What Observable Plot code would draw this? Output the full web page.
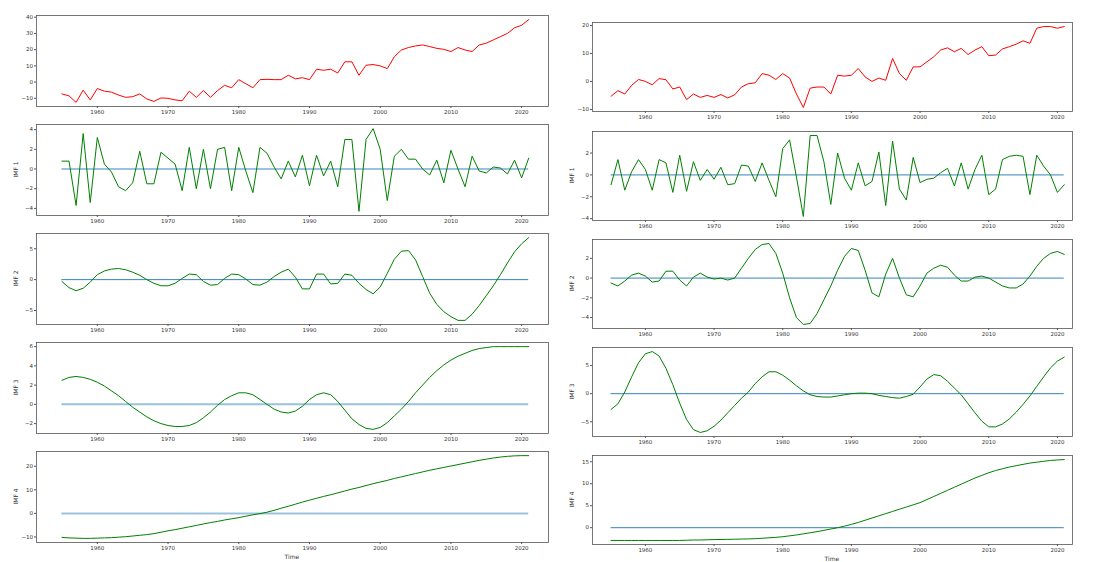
<!DOCTYPE html>
<html>
<head>
<meta charset="utf-8">
<script src="https://cdn.jsdelivr.net/npm/d3@7"></script>
<script src="https://cdn.jsdelivr.net/npm/@observablehq/plot@0.6"></script>
<style>
  html, body { margin: 0; padding: 0; background: #fff; }
  #root { position: relative; width: 1106px; height: 562px; overflow: hidden; font-family: "DejaVu Sans", sans-serif; }
  .panel { position: absolute; }
  .panel svg { max-width: none !important; }
  .ylab { position: absolute; font-size: 6px; color: #333; white-space: nowrap; transform-origin: center; }
  .xlab { position: absolute; font-size: 6px; color: #333; white-space: nowrap; }
</style>
</head>
<body>
<div id="root"></div>
<script>
// ---------- data ----------
const years = [1955,1956,1957,1958,1959,1960,1961,1962,1963,1964,1965,1966,1967,1968,1969,
  1970,1971,1972,1973,1974,1975,1976,1977,1978,1979,1980,1981,1982,1983,1984,1985,1986,1987,1988,1989,
  1990,1991,1992,1993,1994,1995,1996,1997,1998,1999,2000,2001,2002,2003,2004,2005,2006,2007,2008,2009,
  2010,2011,2012,2013,2014,2015,2016,2017,2018,2019,2020,2021];
const xTicks = [1960, 1970, 1980, 1990, 2000, 2010, 2020];

// left column
const leftSignal = [-7.3,-8.5,-12.5,-5,-11,-4,-5.6,-6.2,-8,-9.4,-9,-7.3,-10.4,-11.9,-9.8,-10,-11,-11.5,-5.6,-9.4,
  -5.2,-9.4,-5.2,-2,-3.5,1.5,-1,-3.5,1.5,1.7,1.5,1.5,4.2,2,2.7,1.5,7.9,7.3,7.9,5.6,
  12.5,12.5,4.2,10.4,10.8,10,8.3,15.6,19.8,21.3,22.3,22.9,21.9,20.8,20.2,18.8,21.3,19.8,18.8,22.9,
  24,26,28,30,33.5,35,38.5];
const leftImf1 = [0.8,0.8,-3.7,3.6,-3.4,3.2,0.5,-0.3,-1.8,-2.2,-1.4,1.8,-1.5,-1.5,1.7,1.1,0.5,-2.2,2.2,-2.0,
  2.0,-2.0,2.0,2.2,-2.2,2.2,-0.2,-2.4,2.2,1.6,0.2,-1.0,0.8,-0.8,1.4,-1.7,1.4,-0.7,0.8,-1.8,
  3.0,3.0,-4.3,3.0,4.1,2.0,-3.2,1.3,2.0,1.0,1.0,0.0,-0.6,0.9,-1.4,1.9,0.0,-1.8,1.3,-0.2,
  -0.4,0.2,0.1,-0.5,0.9,-0.9,1.1];
const leftImf2 = [-0.3,-1.3,-1.8,-1.4,-0.4,0.8,1.4,1.7,1.8,1.6,1.2,0.7,0.0,-0.6,-1.0,-1.0,-0.6,0.2,0.9,0.8,
  -0.3,-0.9,-0.8,0.2,0.9,0.8,0.1,-0.8,-0.9,-0.4,0.5,1.2,1.7,0.4,-1.5,-1.5,0.9,0.9,-0.7,-0.6,
  0.9,0.7,-0.6,-1.6,-2.3,-1.2,1.0,3.3,4.6,4.7,3.2,0.5,-2.2,-4.0,-5.2,-6.0,-6.6,-6.6,-5.6,-4.2,
  -2.6,-1.0,0.8,2.7,4.5,5.8,6.8];
const leftImf3 = [2.5,2.8,2.9,2.8,2.6,2.3,1.9,1.4,0.9,0.3,-0.3,-0.8,-1.3,-1.7,-2.0,-2.2,-2.3,-2.3,-2.2,-1.9,
  -1.4,-0.8,-0.1,0.5,0.9,1.2,1.2,1.0,0.5,0.0,-0.5,-0.8,-0.9,-0.7,-0.2,0.5,1.0,1.2,1.0,0.3,
  -0.6,-1.5,-2.1,-2.5,-2.6,-2.4,-1.9,-1.2,-0.5,0.3,1.2,2.0,2.8,3.5,4.1,4.6,5.0,5.3,5.6,5.8,
  5.9,6.0,6.0,6.0,6.0,6.0,6.0];
const leftImf4 = [-10.2,-10.4,-10.5,-10.6,-10.6,-10.5,-10.4,-10.3,-10.1,-9.9,-9.6,-9.3,-9.0,-8.6,-8.0,-7.4,-6.9,-6.3,-5.7,-5.1,
  -4.5,-3.9,-3.4,-2.8,-2.3,-1.8,-1.2,-0.6,-0.1,0.5,1.3,2.2,3.0,3.9,4.8,5.6,6.4,7.2,7.9,8.7,
  9.5,10.3,11.0,11.8,12.6,13.3,14.0,14.8,15.5,16.2,16.9,17.6,18.3,18.9,19.5,20.1,20.7,21.3,21.9,22.5,
  23.0,23.5,23.9,24.2,24.4,24.5,24.5];

// right column
const rightSignal = [-5.3,-3.3,-4.5,-1.4,0.7,0,-1.2,1,0.6,-2.7,-2,-6.5,-4.5,-5.7,-5,-5.7,-4.7,-5.9,-4.8,-2,
  -0.8,-0.5,2.8,2.2,0.7,2.8,1.2,-4.5,-9.3,-2.4,-2,-2,-4.5,2.2,1.9,2.2,4.6,1.6,0,1.2,
  0.4,8.2,2.8,0.4,5.2,5.2,7,8.8,11.2,12,10.6,11.8,9.6,11.2,12.4,9.2,9.4,11.6,12.4,13.3,
  14.5,13.6,19,19.6,19.6,19,19.6];
const rightImf1 = [-0.9,1.4,-1.4,0.3,1.4,0.5,-1.4,1.4,1.1,-1.6,1.8,-1.5,1.2,-0.5,0.5,-0.4,0.7,-0.9,-0.8,0.9,
  0.8,-0.6,1.1,-0.5,-2.0,2.4,3.2,-0.2,-3.8,3.6,3.6,1.2,-2.7,2.0,-0.3,-1.4,1.1,-1.0,-0.6,2.1,
  -2.8,3.1,-1.3,-2.3,1.6,-0.7,-0.4,-0.3,0.2,0.6,-1.0,1.1,-1.3,0.5,1.8,-1.8,-1.3,1.4,1.7,1.8,
  1.7,-1.8,1.8,0.8,0,-1.6,-0.9];
const rightImf2 = [-0.5,-0.8,-0.3,0.3,0.5,0.2,-0.4,-0.3,0.7,0.7,-0.2,-0.8,0.1,0.5,0.1,-0.1,0.0,-0.2,0.0,1.0,
  2.0,2.9,3.4,3.5,2.5,0.5,-2.0,-4.0,-4.7,-4.6,-3.6,-2.2,-0.8,0.8,2.2,3.0,2.8,0.8,-1.5,-1.9,
  0.4,2.0,0.0,-1.7,-1.9,-0.8,0.5,1.0,1.3,1.1,0.3,-0.3,-0.3,0.1,0.2,0.0,-0.4,-0.8,-1.0,-1.0,
  -0.6,0.2,1.2,2.0,2.5,2.7,2.4];
const rightImf3 = [-2.8,-1.8,0.3,3.0,5.5,7.1,7.5,6.7,4.5,1.6,-1.7,-4.6,-6.4,-6.9,-6.6,-5.8,-4.7,-3.4,-2.1,-0.8,
  0.3,1.8,3.0,3.9,3.9,3.3,2.4,1.4,0.5,-0.2,-0.5,-0.6,-0.6,-0.4,-0.2,0.0,0.1,0.1,0.0,-0.3,
  -0.5,-0.7,-0.8,-0.5,-0.1,1.2,2.6,3.4,3.2,2.2,1.0,-0.2,-1.8,-3.4,-4.9,-5.9,-5.9,-5.4,-4.5,-3.3,
  -1.9,-0.4,1.3,3.0,4.6,5.8,6.5];
const rightImf4 = [-2.9,-2.9,-2.9,-2.9,-2.9,-2.9,-2.9,-2.9,-2.9,-2.9,-2.9,-2.85,-2.8,-2.8,-2.75,-2.7,-2.68,-2.65,-2.62,-2.58,
  -2.55,-2.5,-2.4,-2.3,-2.2,-2.05,-1.85,-1.65,-1.4,-1.15,-0.9,-0.6,-0.3,0.0,0.35,0.75,1.2,1.7,2.2,2.7,
  3.2,3.7,4.2,4.7,5.2,5.7,6.4,7.1,7.8,8.5,9.2,9.9,10.6,11.3,11.9,12.5,13.0,13.4,13.8,14.1,
  14.4,14.7,14.9,15.1,15.3,15.4,15.5];

const leftLabels = [null, "IMF 1", "IMF 2", "IMF 3", "IMF 4"];
const rightLabels = [null, "IMF 1", "IMF 2", "IMF 3", "IMF 4"];
const leftYTicks = [[-10,0,10,20,30,40],[-4,-2,0,2,4],[-5,0,5],[-2,0,2,4,6],[-10,0,10,20]];
const rightYTicks = [[-10,0,10,20],[-4,-2,0,2],[-4,-2,0,2],[-5,0,5],[0,5,10,15]];

// ---------- layout ----------
const root = document.getElementById("root");
const mL = 30, mR = 6, mT = 4, mB = 14;

function padDomain(vals) {
  const lo = Math.min(0, d3.min(vals)), hi = Math.max(0, d3.max(vals));
  const p = (hi - lo) * 0.05;
  return [lo - p, hi + p];
}

function panel(opts) {
  const {fx, fy, fw, fh, values, color, ylabel, yticks, xdomain, zeroThick, showTime} = opts;
  const rows = years.map((yr, i) => ({year: yr, v: values[i]}));
  const marks = [
    Plot.frame({stroke: "#555", strokeWidth: 0.8}),
    Plot.axisX({ticks: xTicks, tickFormat: d => String(d), tickSize: 2, tickPadding: 1.5, fontSize: 5.5, label: null, stroke: "#555"}),
    Plot.axisY({ticks: yticks, tickSize: 2, tickPadding: 1.5, fontSize: 5.5, label: null, stroke: "#555"})
  ];
  if (color !== "red") {
    marks.push(Plot.ruleY([0], {x1: years[0], x2: years[years.length - 1],
      stroke: "#1f77b4", strokeWidth: zeroThick ? 2 : 1, strokeOpacity: zeroThick ? 0.45 : 0.9}));
  }
  marks.push(Plot.line(rows, {x: "year", y: "v", stroke: color, strokeWidth: 1}));
  const chart = Plot.plot({
    width: fw + mL + mR, height: fh + mT + mB,
    marginLeft: mL, marginRight: mR, marginTop: mT, marginBottom: mB,
    style: {background: "transparent", overflow: "visible", fontFamily: "DejaVu Sans, sans-serif", color: "#333"},
    x: {domain: xdomain},
    y: {domain: padDomain(values)},
    marks
  });
  const div = document.createElement("div");
  div.className = "panel";
  div.style.left = (fx - mL) + "px";
  div.style.top = (fy - mT) + "px";
  div.style.width = (fw + mL + mR) + "px";
  div.appendChild(chart);
  root.appendChild(div);
  if (ylabel) {
    const l = document.createElement("div");
    l.className = "ylab";
    l.textContent = ylabel;
    root.appendChild(l);
    const w = l.offsetWidth, h = l.offsetHeight;
    l.style.left = (fx - 21 - w / 2) + "px";
    l.style.top = (fy + fh / 2 - h / 2) + "px";
    l.style.transform = "rotate(-90deg)";
  }
  if (showTime) {
    const t = document.createElement("div");
    t.className = "xlab";
    t.textContent = "Time";
    root.appendChild(t);
    t.style.left = (fx + fw / 2 - t.offsetWidth / 2) + "px";
    t.style.top = (fy + fh + 11) + "px";
  }
}

const leftCol = {fx: 36, fw: 512, tops: [15, 124, 233, 342, 451], fh: 91, xdomain: [1951.4, 2023.8]};
const rightCol = {fx: 592, fw: 480, tops: [22, 131, 239, 347, 455], fh: 89, xdomain: [1952.3, 2022.2]};

const leftData = [leftSignal, leftImf1, leftImf2, leftImf3, leftImf4];
const rightData = [rightSignal, rightImf1, rightImf2, rightImf3, rightImf4];

leftData.forEach((vals, i) => panel({
  fx: leftCol.fx, fy: leftCol.tops[i], fw: leftCol.fw, fh: leftCol.fh, values: vals,
  color: i === 0 ? "red" : "green", ylabel: leftLabels[i], yticks: leftYTicks[i],
  xdomain: leftCol.xdomain, zeroThick: i >= 3, showTime: i === 4
}));
rightData.forEach((vals, i) => panel({
  fx: rightCol.fx, fy: rightCol.tops[i], fw: rightCol.fw, fh: rightCol.fh, values: vals,
  color: i === 0 ? "red" : "green", ylabel: rightLabels[i], yticks: rightYTicks[i],
  xdomain: rightCol.xdomain, zeroThick: false, showTime: i === 4
}));
</script>
</body>
</html>
